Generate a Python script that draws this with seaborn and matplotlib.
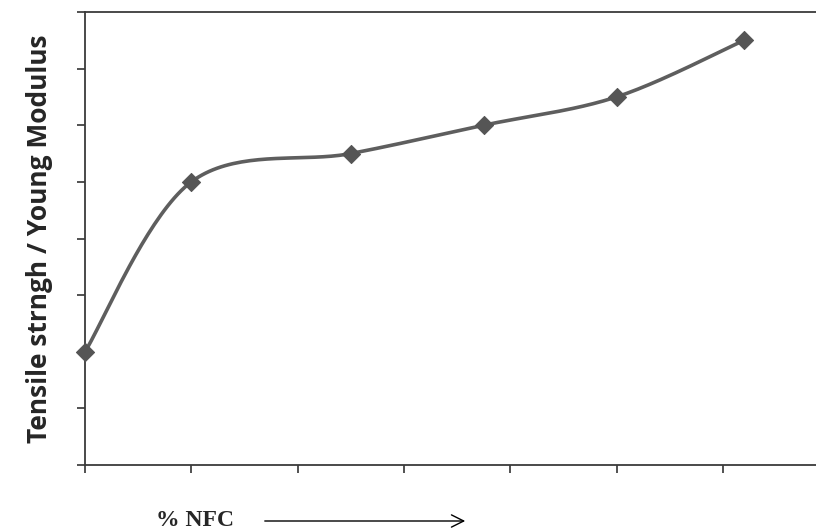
import numpy as np
import pandas as pd
import matplotlib
matplotlib.use("Agg")
import matplotlib.pyplot as plt
import seaborn as sns

# values (axis units: x ticks 0..6, y ticks 0..8)
nfc = [0, 1, 2.5, 3.75, 5, 6.2]
strength = [2, 5, 5.5, 6, 6.5, 7.5]
x_ticks = [0, 1, 2, 3, 4, 5, 6]
y_ticks = [0, 1, 2, 3, 4, 5, 6, 7, 8]

df = pd.DataFrame({"nfc": nfc, "strength": strength})


def smooth(xs, ys, n=40, t=0.5):
    # Excel-like smoothed line: cardinal spline through the points
    xs = np.asarray(xs, float)
    ys = np.asarray(ys, float)
    px = np.concatenate([[xs[0]], xs, [xs[-1]]])
    py = np.concatenate([[ys[0]], ys, [ys[-1]]])
    out_x, out_y = [], []
    for i in range(1, len(px) - 2):
        p0x, p1x, p2x, p3x = px[i - 1:i + 3]
        p0y, p1y, p2y, p3y = py[i - 1:i + 3]
        c1x = p1x + (p2x - p0x) * t / 3
        c1y = p1y + (p2y - p0y) * t / 3
        c2x = p2x - (p3x - p1x) * t / 3
        c2y = p2y - (p3y - p1y) * t / 3
        s = np.linspace(0, 1, n)
        bx = (1 - s) ** 3 * p1x + 3 * (1 - s) ** 2 * s * c1x + 3 * (1 - s) * s ** 2 * c2x + s ** 3 * p2x
        by = (1 - s) ** 3 * p1y + 3 * (1 - s) ** 2 * s * c1y + 3 * (1 - s) * s ** 2 * c2y + s ** 3 * p2y
        out_x.extend(bx)
        out_y.extend(by)
    return np.array(out_x), np.array(out_y)


sns.set_style("white")
fig = plt.figure(figsize=(8.16, 5.32), dpi=100)
ax = fig.add_axes([85 / 816, 1 - 465 / 532, 1 - 85 / 816, (465 - 12) / 532])

cx, cy = smooth(df["nfc"], df["strength"])
ax.plot(cx, cy, color="#5e5e5e", lw=2.6, solid_capstyle="round", zorder=2)
sns.scatterplot(data=df, x="nfc", y="strength", marker="D", s=85,
                color="#555555", edgecolor="#555555", ax=ax, zorder=3,
                clip_on=False)

ax.set_xlim(0, (816 - 85) / 106.3)
ax.set_ylim(0, 8)
ax.set_xticks(x_ticks)
ax.set_yticks(y_ticks)
ax.set_xticklabels([])
ax.set_yticklabels([])
ax.tick_params(axis="both", direction="out", length=6, width=1.2,
               color="#333333", bottom=True, left=True)
for side in ["left", "bottom", "top"]:
    ax.spines[side].set_visible(True)
    ax.spines[side].set_color("#3a3a3a")
    ax.spines[side].set_linewidth(1.3)
ax.spines["right"].set_visible(False)
ax.set_xlabel("")
ax.set_ylabel("")

fig.text(40 / 816, 1 - 239 / 532, "Tensile strngh / Young Modulus",
         rotation=90, ha="center", va="center", fontsize=19,
         fontweight="bold", family=["Open Sans", "DejaVu Sans"])
fig.text(195 / 816, 1 - 521 / 532, "% NFC", ha="center", va="center",
         fontsize=17, fontweight="bold", family=["Liberation Serif"])
fig.add_artist(matplotlib.patches.FancyArrowPatch(
    (262 / 816, 1 - 521 / 532), (468 / 816, 1 - 521 / 532),
    transform=fig.transFigure, arrowstyle="->", mutation_scale=22,
    lw=1.0, color="black"))

plt.savefig("out.png", dpi=100)
